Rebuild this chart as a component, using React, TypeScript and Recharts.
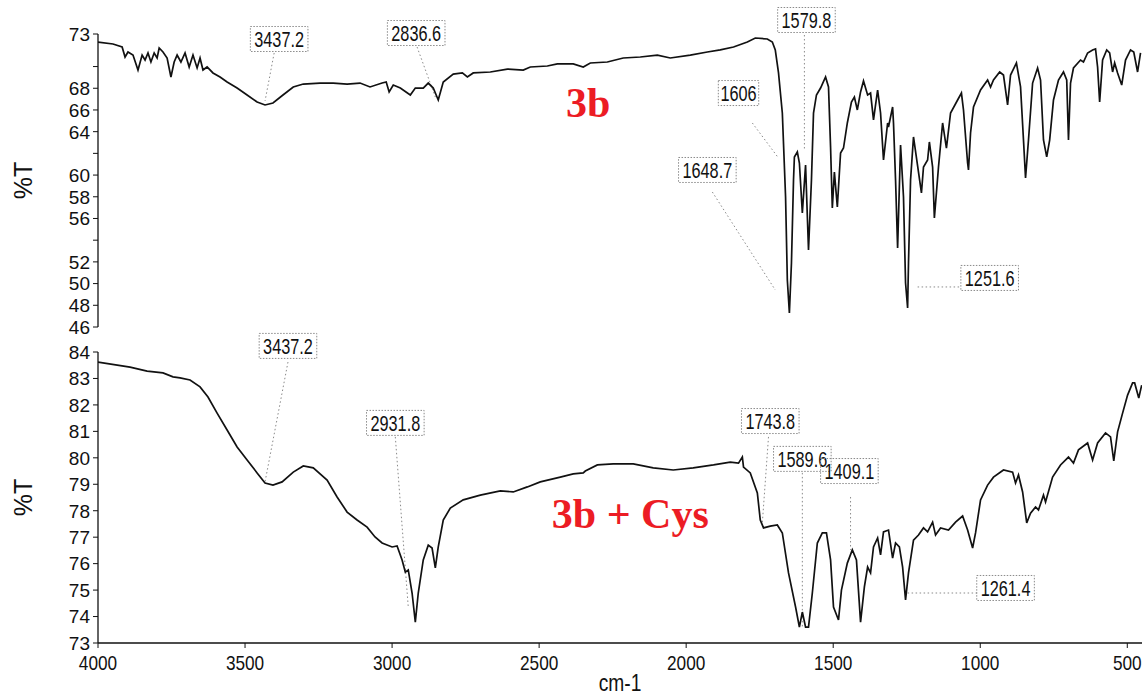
import React from 'react';
import { LineChart, Line, XAxis, YAxis, ReferenceLine, ReferenceDot } from 'recharts';

// ---------- data (wavenumber cm-1, %T) ----------
const topWn = [4000,3949,3918,3908,3898,3881,3864,3850,3840,3830,3820,3809,3799,3792,3779,3765,3752,3741,3731,3718,3704,3690,3677,3663,3653,3643,3629,3609,3585,3561,3527,3493,3459,3432,3405,3371,3336,3302,3245,3200,3153,3109,3075,3034,3020,3010,2996,2972,2938,2921,2894,2877,2860,2843,2826,2792,2761,2744,2724,2666,2608,2554,2530,2472,2438,2384,2350,2326,2268,2214,2156,2098,2054,1986,1928,1884,1839,1792,1765,1724,1707,1697,1686,1673,1662,1656,1649,1642,1635,1632,1622,1615,1605,1594,1584,1574,1567,1557,1543,1526,1516,1509,1503,1496,1486,1475,1465,1452,1438,1428,1418,1407,1397,1383,1373,1363,1349,1339,1329,1315,1312,1298,1295,1288,1281,1271,1261,1254,1247,1244,1237,1227,1213,1200,1193,1179,1173,1162,1156,1142,1128,1115,1101,1077,1064,1057,1043,1040,1033,1023,999,975,965,955,934,921,907,897,877,863,853,846,836,822,805,795,785,774,764,751,734,717,706,700,693,683,659,649,635,618,608,601,594,584,570,560,550,543,533,519,506,489,478,465,455];
const topT = [72.26,72.08,71.80,70.88,71.34,71.06,69.68,71.06,70.60,71.25,70.42,71.25,70.79,71.71,71.34,70.79,69.04,70.42,71.06,70.42,71.25,69.96,71.06,69.87,70.79,69.68,69.96,69.41,69.04,68.58,68.02,67.38,66.73,66.46,66.64,67.38,68.12,68.39,68.48,68.48,68.39,68.48,68.12,68.48,68.58,67.66,68.30,68.02,67.38,68.02,68.02,68.48,68.02,66.92,68.58,69.31,69.41,69.04,69.41,69.50,69.77,69.68,69.96,70.05,70.24,70.24,69.96,70.33,70.42,70.79,70.88,71.06,70.79,71.06,71.34,71.53,71.80,72.26,72.63,72.54,72.26,71.53,69.41,65.72,57.98,50.33,47.29,51.90,59.55,61.67,62.13,61.11,56.51,60.93,53.10,59.55,65.72,67.38,68.02,69.04,68.12,62.59,56.97,60.28,57.06,62.03,62.49,64.80,66.73,67.19,66.00,67.66,68.67,67.38,67.56,65.08,67.84,65.72,61.39,64.80,64.43,66.27,64.80,59.55,53.28,62.77,57.98,50.05,47.75,51.90,59.55,63.51,60.84,58.35,60.74,61.39,63.05,60.74,56.04,60.74,64.80,62.49,65.72,66.92,67.56,66.00,61.11,60.47,63.88,66.27,67.84,68.76,68.12,68.76,69.50,69.22,66.46,69.22,70.33,68.12,63.23,59.73,63.23,68.48,69.87,68.76,63.23,61.67,63.23,66.92,68.76,69.50,68.76,63.23,68.48,69.87,70.60,70.42,71.25,71.53,71.62,69.96,66.73,70.60,71.53,71.25,69.50,70.33,69.41,68.30,70.60,71.53,71.34,69.50,71.25];

const botWn = [4000,3891,3833,3779,3745,3721,3687,3653,3626,3595,3561,3527,3493,3459,3432,3405,3374,3336,3302,3268,3221,3187,3153,3119,3085,3058,3034,3000,2983,2966,2955,2945,2932,2921,2911,2894,2877,2864,2853,2843,2826,2802,2758,2700,2632,2588,2540,2496,2428,2384,2350,2343,2302,2248,2180,2112,2044,1976,1907,1850,1822,1809,1805,1782,1758,1748,1737,1714,1690,1673,1652,1628,1615,1605,1594,1584,1571,1554,1537,1523,1509,1499,1482,1472,1452,1435,1421,1407,1394,1383,1373,1363,1349,1339,1329,1312,1298,1288,1275,1264,1254,1244,1227,1210,1193,1179,1162,1152,1135,1108,1084,1060,1043,1026,1016,999,975,955,921,890,880,870,856,842,829,812,802,785,778,754,727,700,683,666,635,618,601,574,557,546,533,516,499,482,475,461,451];
const botT = [83.62,83.43,83.28,83.21,83.06,83.02,82.94,82.68,82.30,81.69,81.05,80.41,79.92,79.43,79.05,78.97,79.09,79.46,79.69,79.62,79.16,78.52,77.95,77.65,77.38,77.01,76.78,76.63,76.67,76.14,75.68,75.76,74.89,73.79,74.89,76.14,76.70,76.59,75.84,76.63,77.65,78.10,78.41,78.59,78.75,78.71,78.90,79.09,79.27,79.39,79.43,79.50,79.73,79.77,79.77,79.62,79.54,79.62,79.73,79.84,79.80,80.03,79.65,79.43,78.67,77.65,77.35,77.42,77.46,77.16,75.65,74.36,73.60,74.17,73.60,73.60,74.89,76.78,77.16,77.16,76.14,74.36,73.87,75.00,76.02,76.52,76.14,73.79,75.12,75.87,75.65,76.63,76.97,76.33,77.20,77.27,76.21,76.78,76.63,75.87,74.63,75.65,76.89,77.08,77.35,77.20,77.57,77.08,77.35,77.27,77.57,77.80,77.27,76.59,77.16,78.41,78.97,79.27,79.54,79.46,79.05,79.35,78.71,77.54,77.91,78.14,78.03,78.59,78.33,79.27,79.73,80.03,79.80,80.30,80.56,79.92,80.56,80.94,80.79,79.88,80.98,81.69,82.37,82.83,82.83,82.26,82.75];

const xTicks = [4000, 3500, 3000, 2500, 2000, 1500, 1000, 500];
const topTicks = [46, 48, 50, 52, 54, 56, 58, 60, 62, 64, 66, 68, 70, 73];
const topTickLabels = [46, 48, 50, 52, 56, 58, 60, 64, 66, 68, 73];
const botTicks = [73, 74, 75, 76, 77, 78, 79, 80, 81, 82, 83, 84];

// peak annotations: label box position and leader line (data coordinates)
const topPeakLabels = ['3437.2', '2836.6', '1579.8', '1606', '1648.7', '1251.6'];
const topBoxWn = [3384, 2918, 1591, 1822, 1928, 968];
const topBoxT = [72.54, 73.09, 74.29, 67.56, 60.47, 50.52];
const topLeadWn1 = [3401, 2915, 1598, 1775, 1911, 1213];
const topLeadT1 = [71.25, 71.80, 72.91, 64.80, 58.44, 49.69];
const topLeadWn2 = [3432, 2853, 1598, 1686, 1697, 1067];
const topLeadT2 = [66.83, 67.19, 62.31, 61.57, 49.41, 49.69];

const botPeakLabels = ['3437.2', '2931.8', '1743.8', '1589.6', '1409.1', '1261.4'];
const botBoxWn = [3354, 2989, 1714, 1605, 1445, 914];
const botBoxT = [84.23, 81.32, 81.39, 79.96, 79.50, 75.08];
const botLeadWn1 = [3354, 2989, 1720, 1605, 1441, 1247];
const botLeadT1 = [83.62, 80.79, 80.79, 79.43, 78.52, 74.89];
const botLeadWn2 = [3432, 2945, 1741, 1605, 1441, 1009];
const botLeadT2 = [79.09, 74.36, 77.54, 73.60, 76.52, 74.89];

const topData = topWn.map((wn, i) => ({ wn, t: topT[i] }));
const botData = botWn.map((wn, i) => ({ wn, t: botT[i] }));

const FONT = "'Liberation Sans', Arial, Helvetica, sans-serif";
const RED = '#ec1c24';

const PeakBox = (props: any) => {
  const { cx, cy, text } = props;
  if (cx == null || cy == null) return null;
  const w = text.length * 8.6 + 6;
  const h = 25;
  return (
    <g>
      <rect x={cx - w / 2} y={cy - h / 2} width={w} height={h} fill="#fff" fillOpacity={0}
        stroke="#8a8a8a" strokeWidth={1} strokeDasharray="1.5 1.5" />
      <text transform={`translate(${cx},${cy}) scale(0.74,1)`} textAnchor="middle" dy="0.36em"
        fontSize={22} fontFamily={FONT} fill="#111">{text}</text>
    </g>
  );
};

const BigLabel = (props: any) => {
  const { cx, cy, text } = props;
  if (cx == null || cy == null) return null;
  return (
    <text x={cx} y={cy} dy="0.34em" textAnchor="middle" fontSize={42} fontWeight="bold"
      fontFamily="'Liberation Serif', 'Times New Roman', serif" fill={RED}>{text}</text>
  );
};

const makeYTick = (labeled: number[] | null) => (props: any) => {
  const { x, y, payload } = props;
  if (labeled && !labeled.includes(payload.value)) return <g />;
  return (
    <text x={x} y={y} dy="0.36em" textAnchor="end" fontSize={19} fontFamily={FONT} fill="#111">
      {payload.value}
    </text>
  );
};

const XTick = (props: any) => {
  const { x, y, payload } = props;
  return (
    <text transform={`translate(${x},${y}) scale(0.82,1)`} dy="0.74em" textAnchor="middle"
      fontSize={21} fontFamily={FONT} fill="#111">{payload.value}</text>
  );
};

const YTitle = (props: any) => {
  const { viewBox } = props;
  const cy = viewBox.y + viewBox.height / 2;
  return (
    <text transform={`translate(23,${cy}) rotate(-90)`} textAnchor="middle" dy="0.36em"
      fontSize={25} fontFamily={FONT} fill="#111">%T</text>
  );
};

const XTitle = (props: any) => {
  const { viewBox } = props;
  const cx = viewBox.x + viewBox.width / 2;
  return (
    <text transform={`translate(${cx},${viewBox.y + 39}) scale(0.8,1)`} textAnchor="middle" dy="0.36em"
      fontSize={24} fontFamily={FONT} fill="#111">cm-1</text>
  );
};

const renderPeaks = (labels: string[], bx: number[], by: number[], l1x: number[], l1y: number[], l2x: number[], l2y: number[], prefix: string) => {
  const out: any[] = [];
  labels.forEach((lab, i) => {
    out.push(
      <ReferenceLine key={`${prefix}l${i}`} segment={[{ x: l1x[i], y: l1y[i] }, { x: l2x[i], y: l2y[i] }]}
        stroke="#8a8a8a" strokeWidth={1} strokeDasharray="1.5 2.5" ifOverflow="visible" />
    );
    out.push(
      <ReferenceDot key={`${prefix}b${i}`} x={bx[i]} y={by[i]} ifOverflow="visible"
        shape={(p: any) => <PeakBox {...p} text={lab} />} />
    );
  });
  return out;
};

export default function App() {
  return (
    <div style={{ position: 'absolute', left: 0, top: 0, width: 1144, height: 698, background: '#fff' }}>
      <div style={{ position: 'absolute', left: 0, top: 330 }}>
        <LineChart width={1144} height={368} data={botData} margin={{ top: 22, right: 2, bottom: 0, left: 0 }}>
          <XAxis dataKey="wn" type="number" domain={[450, 4000]} reversed ticks={xTicks} interval={0}
            height={55} tickSize={5} tickMargin={6} axisLine={{ stroke: '#111', strokeWidth: 1.3 }}
            tickLine={{ stroke: '#111' }} tick={<XTick />} allowDataOverflow label={<XTitle />} />
          <YAxis type="number" domain={[73, 84]} ticks={botTicks} interval={0} width={98}
            tickSize={5} tickMargin={3} axisLine={{ stroke: '#111', strokeWidth: 1.3 }}
            tickLine={{ stroke: '#111' }} tick={makeYTick(null)} allowDataOverflow
            label={<YTitle />} />
          {renderPeaks(botPeakLabels, botBoxWn, botBoxT, botLeadWn1, botLeadT1, botLeadWn2, botLeadT2, 'b')}
          <ReferenceDot x={2190} y={77.88} ifOverflow="visible" shape={(p: any) => <BigLabel {...p} text="3b + Cys" />} />
          <Line type="linear" dataKey="t" stroke="#111" strokeWidth={1.7} dot={false} isAnimationActive={false} />
        </LineChart>
      </div>
      <div style={{ position: 'absolute', left: 0, top: 0 }}>
        <LineChart width={1144} height={345} data={topData} margin={{ top: 34, right: 2, bottom: 18, left: 0 }}>
          <XAxis dataKey="wn" type="number" domain={[450, 4000]} reversed hide allowDataOverflow />
          <YAxis type="number" domain={[46, 73]} ticks={topTicks} interval={0} width={98}
            tickSize={5} tickMargin={3} axisLine={{ stroke: '#111', strokeWidth: 1.3 }}
            tickLine={{ stroke: '#111' }} tick={makeYTick(topTickLabels)} allowDataOverflow
            label={<YTitle />} />
          {renderPeaks(topPeakLabels, topBoxWn, topBoxT, topLeadWn1, topLeadT1, topLeadWn2, topLeadT2, 't')}
          <ReferenceDot x={2333} y={66.64} ifOverflow="visible" shape={(p: any) => <BigLabel {...p} text="3b" />} />
          <Line type="linear" dataKey="t" stroke="#111" strokeWidth={1.7} dot={false} isAnimationActive={false} />
        </LineChart>
      </div>
    </div>
  );
}
